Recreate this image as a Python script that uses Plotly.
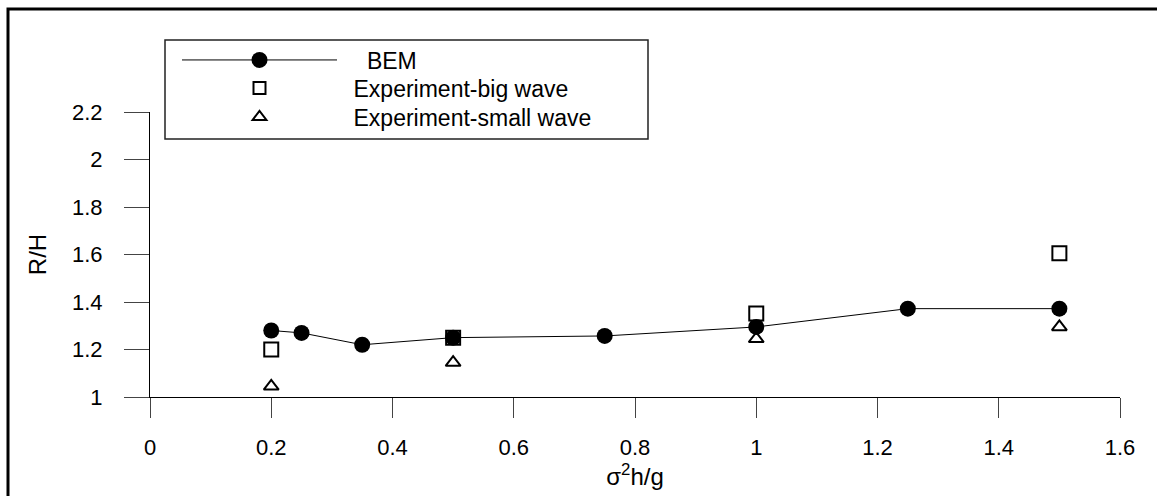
import plotly.graph_objects as go

# ---- data ----
bem_x = [0.2, 0.25, 0.35, 0.5, 0.75, 1.0, 1.25, 1.5]
bem_y = [1.28, 1.27, 1.22, 1.25, 1.257, 1.295, 1.372, 1.372]

big_x = [0.2, 0.5, 1.0, 1.5]
big_y = [1.20, 1.25, 1.352, 1.605]

small_x = [0.2, 0.5, 1.0, 1.5]
small_y = [1.045, 1.145, 1.245, 1.295]

x_ticks = [0, 0.2, 0.4, 0.6, 0.8, 1.0, 1.2, 1.4, 1.6]
y_ticks = [1, 1.2, 1.4, 1.6, 1.8, 2.0, 2.2]

FONT = "Arial, Liberation Sans, sans-serif"

fig = go.Figure()
fig.add_trace(go.Scatter(
    x=bem_x, y=bem_y, mode="lines+markers",
    name="\u200b\u2002\u2002\u200aBEM",
    line=dict(color="black", width=1),
    marker=dict(symbol="circle", size=16, color="black"),
    legend="legend",
))
fig.add_trace(go.Scatter(
    x=big_x, y=big_y, mode="markers", name="\u200b\u2002Experiment-big wave",
    marker=dict(symbol="square-open", size=14, color="black", line=dict(width=2)),
    legend="legend2",
))
fig.add_trace(go.Scatter(
    x=small_x, y=small_y, mode="markers", name="\u200b\u2002Experiment-small wave",
    marker=dict(symbol="triangle-up-open", size=13, color="black", line=dict(width=2)),
    legend="legend3",
))

L, R, T, B = 150, 37, 112, 99
W, H = 1157, 496
pw, ph = W - L - R, H - T - B

def px(x):
    return (x - L) / pw

def py(y):
    return (H - B - y) / ph

LEG_FONT = dict(family=FONT, size=23, color="black")

def leg(yc, constant=False):
    d = dict(
        x=px(177), y=py(yc), xanchor="left", yanchor="middle",
        bgcolor="rgba(0,0,0,0)", borderwidth=0,
        itemwidth=155, font=LEG_FONT,
    )
    if constant:
        d["itemsizing"] = "constant"
    return d

fig.update_layout(
    width=W, height=H,
    margin=dict(l=L, r=R, t=T, b=B),
    paper_bgcolor="white", plot_bgcolor="white",
    font=dict(family=FONT, size=22, color="black"),
    showlegend=True,
    legend=leg(60),
    legend2=leg(88, True),
    legend3=leg(117, True),
    xaxis=dict(
        range=[0, 1.6], tickvals=x_ticks, ticks="outside", ticklen=20,
        tickcolor="#444", showline=True, linecolor="black", linewidth=1,
        showgrid=False, zeroline=False, ticklabelstandoff=11,
        tickfont=dict(size=22),
        title=dict(text="σ<sup>2</sup>h/g", standoff=8, font=dict(size=24)),
    ),
    yaxis=dict(
        range=[1, 2.2], tickvals=y_ticks, ticks="outside", ticklen=25,
        tickcolor="#444", showline=True, linecolor="black", linewidth=1,
        showgrid=False, zeroline=False, ticklabelstandoff=17,
        tickfont=dict(size=22),
        title=dict(text="R/H", standoff=18, font=dict(size=24)),
    ),
    shapes=[
        dict(type="rect", xref="paper", yref="paper",
             x0=px(165), x1=px(648), y0=py(139), y1=py(40),
             line=dict(color="#222", width=1.5), fillcolor="rgba(0,0,0,0)", layer="below"),
        dict(type="rect", xref="paper", yref="paper",
             x0=px(8), x1=px(1175), y0=py(515), y1=py(9),
             line=dict(color="black", width=3), fillcolor="rgba(0,0,0,0)"),
    ],
)

fig.write_html("out.html")
